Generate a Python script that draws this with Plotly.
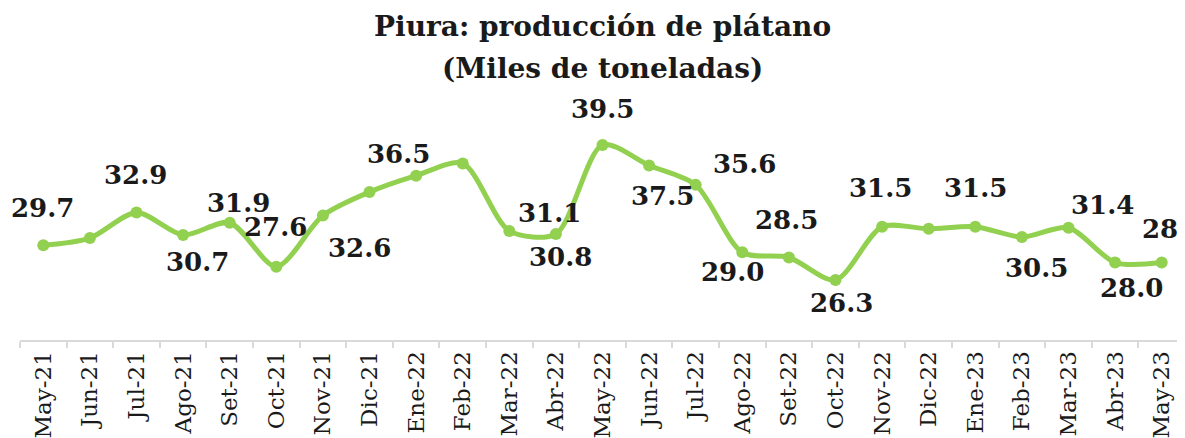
import plotly.graph_objects as go

months = ["May-21", "Jun-21", "Jul-21", "Ago-21", "Set-21", "Oct-21", "Nov-21", "Dic-21",
          "Ene-22", "Feb-22", "Mar-22", "Abr-22", "May-22", "Jun-22", "Jul-22", "Ago-22",
          "Set-22", "Oct-22", "Nov-22", "Dic-22", "Ene-23", "Feb-23", "Mar-23", "Abr-23", "May-23"]
values = [29.7, 30.4, 32.9, 30.7, 31.9, 27.6, 32.6, 34.9, 36.5, 37.7, 31.1, 30.8, 39.5,
          37.5, 35.6, 29.0, 28.5, 26.3, 31.5, 31.3, 31.5, 30.5, 31.4, 28.0, 28.0]
# which points carry a data label
labeled = [True, False, True, True, True, True, True, False, True, False, True, True, True,
           True, True, True, True, True, True, False, True, True, True, True, True]

# label offsets in pixels (styling only)
label_dx = [-1, 0, -1, 14, 9, -1, 37, 0, -18, 0, 40, 5, 0, 13, 49, -10, -2, 6, -2, 0, 0, 15, 34, 16, 12]
label_dy = [37, 0, 37, -27, 20, 40, -32, 0, 22, 0, 18, -23, 36, -31, 21, -20, 37, -23, 39, 0, 39, -31, 23, -25, 34]

GREEN = "#92D050"
SERIF = "DejaVu Serif"

fig = go.Figure()
fig.add_trace(go.Scatter(
    x=months, y=values, mode="lines+markers",
    line=dict(color=GREEN, width=5, shape="spline", smoothing=0.8),
    marker=dict(color=GREEN, size=12),
    hoverinfo="x+y", showlegend=False,
))

annotations = []
for m, v, lab, dx, dy in zip(months, values, labeled, label_dx, label_dy):
    if not lab:
        continue
    annotations.append(dict(
        x=m, y=v, xref="x", yref="y", text=f"<b>{v:.1f}</b>", showarrow=False,
        xshift=dx, yshift=dy, xanchor="center", yanchor="middle",
        font=dict(family=SERIF, size=26, color="#1a1a1a"),
    ))

# plot area is 240 px tall; title lines sit at fixed pixel heights above it
annotations.append(dict(
    x=0.5, y=1 + (100 - 26) / 240, xref="paper", yref="paper", showarrow=False,
    text="<b>Piura: producción de plátano</b>", xanchor="center", yanchor="middle",
    font=dict(family=SERIF, size=28, color="#1a1a1a"),
))
annotations.append(dict(
    x=0.5, y=1 + (100 - 68) / 240, xref="paper", yref="paper", showarrow=False,
    text="<b>(Miles de toneladas)</b>", xanchor="center", yanchor="middle",
    font=dict(family=SERIF, size=28, color="#1a1a1a"),
))

fig.update_layout(
    width=1177, height=430,
    margin=dict(l=12, r=0, t=92, b=98),
    paper_bgcolor="white", plot_bgcolor="white",
    annotations=annotations,
    xaxis=dict(
        type="category", tickangle=-90, tickson="boundaries",
        ticks="outside", ticklen=6, tickcolor="#D9D9D9", tickwidth=1.5,
        showline=True, linecolor="#D9D9D9", linewidth=2,
        showgrid=False, zeroline=False, automargin=False,
        tickfont=dict(family=SERIF, size=23, color="#1a1a1a"),
        range=[-0.5, len(months) - 0.5],
    ),
    yaxis=dict(
        range=[20.43, 43.9], visible=False, showgrid=False, zeroline=False,
        automargin=False,
    ),
)

fig.write_html("out.html")
